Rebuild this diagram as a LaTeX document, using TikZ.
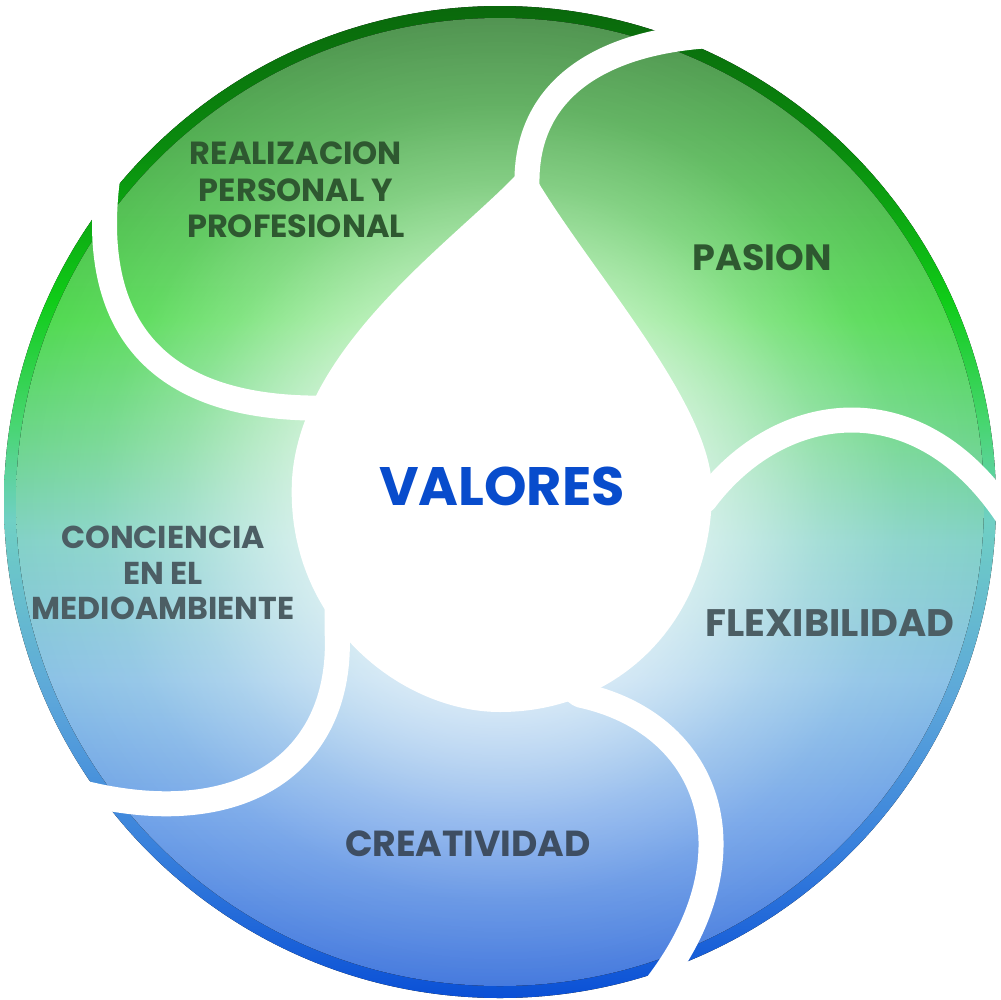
\documentclass[tikz,border=0pt]{standalone}
\usepackage{fontspec}
\setmainfont{Poppins}
\usepackage{tikz}
\usetikzlibrary{fadings}
\definecolor{rimA}{RGB}{10,104,12}
\definecolor{rimB}{RGB}{10,140,14}
\definecolor{rimC}{RGB}{16,204,24}
\definecolor{rimD}{RGB}{70,214,110}
\definecolor{rimE}{RGB}{112,208,196}
\definecolor{rimF}{RGB}{92,166,218}
\definecolor{rimG}{RGB}{56,128,220}
\definecolor{rimH}{RGB}{10,80,214}
\definecolor{fillA}{RGB}{82,148,82}
\definecolor{fillB}{RGB}{84,186,84}
\definecolor{fillC}{RGB}{82,218,82}
\definecolor{fillD}{RGB}{110,214,140}
\definecolor{fillE}{RGB}{132,210,200}
\definecolor{fillF}{RGB}{140,194,230}
\definecolor{fillG}{RGB}{112,162,232}
\definecolor{fillH}{RGB}{70,122,222}
\definecolor{txtgreen}{RGB}{46,88,48}
\definecolor{txtgray}{RGB}{76,94,100}
\definecolor{txtslate}{RGB}{62,78,98}
\definecolor{valblue}{RGB}{8,76,204}
\pgfdeclareverticalshading{rimshade}{100bp}{color(0bp)=(rimH); color(25bp)=(rimH); color(32.5bp)=(rimG); color(40bp)=(rimF); color(49.1bp)=(rimE); color(54.1bp)=(rimD); color(60.2bp)=(rimC); color(67.7bp)=(rimB); color(75bp)=(rimA); color(100bp)=(rimA)}
\pgfdeclareverticalshading{fillshade}{100bp}{color(0bp)=(fillH); color(25bp)=(fillH); color(33.6bp)=(fillG); color(40.8bp)=(fillF); color(48bp)=(fillE); color(53.2bp)=(fillD); color(59.4bp)=(fillC); color(66.6bp)=(fillB); color(75bp)=(fillA); color(100bp)=(fillA)}
\pgfdeclareradialshading{glowshade}{\pgfpointorigin}{color(0bp)=(white); color(10bp)=(black!32); color(13bp)=(black!50); color(16.5bp)=(black!72); color(20.5bp)=(black!90); color(25bp)=(black); color(50bp)=(black)}
\pgfdeclarefading{glow}{\pgfuseshading{glowshade}}
\tikzset{
  gapline/.style={white, line width=2.5mm, line join=round},
  lbl/.style={font=\fontsize{9.1}{10.4}\selectfont\bfseries, align=center, inner sep=0pt}
}
\begin{document}
\begin{tikzpicture}[x=0.1mm, y=-0.1mm]
    \useasboundingbox (0,0) rectangle (1000,1000);
    % ring with rim, fill and light towards the middle
    \fill[shading=rimshade] (500,502) circle (496);
    \fill[shading=fillshade] (500,502) circle (484);
    \fill[white, path fading=glow] (500,502) circle (484);
    % white gaps between the parts
    \draw[gapline] (530,230) -- (527,185) .. controls (525,90) and (600,40) .. (720,35);
    \draw[gapline] (680,520) -- (705,500) .. controls (780,400) and (920,380) .. (1010,520);
    \draw[gapline] (560,680) -- (580,695) .. controls (720,725) and (760,870) .. (640,1005);
    \draw[gapline] (337,600) -- (337,630) .. controls (345,770) and (230,840) .. (55,785);
    \draw[gapline] (350,408) -- (330,408) .. controls (150,412) and (80,320) .. (112,150);
    % drop in the middle
    \fill[white] (527,163) .. controls (470,230) and (300,340) .. (292,480)
        .. controls (285,620) and (400,712) .. (500,712)
        .. controls (620,712) and (712,620) .. (712,490)
        .. controls (712,400) and (580,260) .. cycle;
    \node[lbl, text=valblue, font=\fontsize{15.4}{17}\selectfont\bfseries] (valores) at (502,486) {VALORES};
    \node[lbl, text=txtgreen] (realizacion) at (296,190) {REALIZACION\\PERSONAL Y\\PROFESIONAL};
    \node[lbl, text=txtgreen, font=\fontsize{10.4}{12}\selectfont\bfseries] (pasion) at (762,258) {PASION};
    \node[lbl, text=txtgray, font=\fontsize{10.9}{12}\selectfont\bfseries] (flexibilidad) at (830,623) {FLEXIBILIDAD};
    \node[lbl, text=txtslate, font=\fontsize{10.3}{12}\selectfont\bfseries] (creatividad) at (468,844) {CREATIVIDAD};
    \node[lbl, text=txtgray, font=\fontsize{9}{10.1}\selectfont\bfseries] (conciencia) at (163,573) {CONCIENCIA\\EN EL\\MEDIOAMBIENTE};
\end{tikzpicture}
\end{document}
